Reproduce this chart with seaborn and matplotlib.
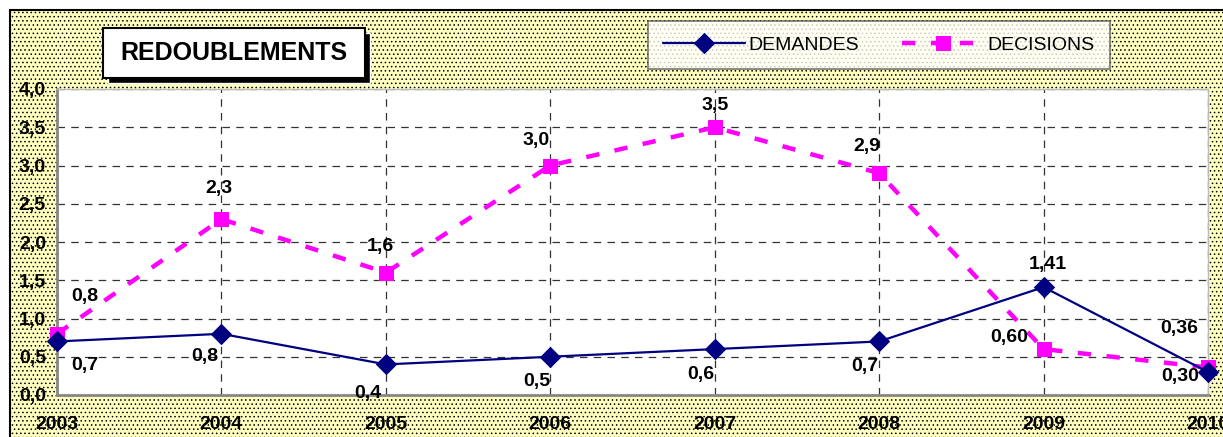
import numpy as np
import pandas as pd
import matplotlib
matplotlib.use("Agg")
import matplotlib.pyplot as plt
from matplotlib.patches import Rectangle
import matplotlib.ticker as mticker
import seaborn as sns

# ── data ────────────────────────────────────────────────────────────────────
YEARS = [2003, 2004, 2005, 2006, 2007, 2008, 2009, 2010]
DEMANDES = [0.7, 0.8, 0.4, 0.5, 0.6, 0.7, 1.41, 0.30]
DECISIONS = [0.8, 2.3, 1.6, 3.0, 3.5, 2.9, 0.60, 0.36]
DEMANDES_LBL = ["0,7", "0,8", "0,4", "0,5", "0,6", "0,7", "1,41", "0,30"]
DECISIONS_LBL = ["0,8", "2,3", "1,6", "3,0", "3,5", "2,9", "0,60", "0,36"]
Y_TICKS = [0.0, 0.5, 1.0, 1.5, 2.0, 2.5, 3.0, 3.5, 4.0]

NAVY = "#000080"
MAGENTA = "#FF00FF"

sns.set_style("white")
plt.rcParams.update({
    "font.family": ["Liberation Sans", "DejaVu Sans"],
    "text.color": "black",
    "xtick.labelcolor": "black",
    "ytick.labelcolor": "black",
    "hatch.color": "#c4c49a",
    "hatch.linewidth": 0.6,
})

fig = plt.figure(figsize=(12.23, 4.37), dpi=100)

# yellow dotted chart background with black top/left border
bg = Rectangle((10 / 1223, -0.01), 1, 1 - 10 / 437 + 0.01, transform=fig.transFigure,
               facecolor="#FFFFC0", edgecolor="black", linewidth=1.5,
               hatch="....", zorder=-10)
fig.patches.append(bg)

ax = fig.add_axes([57 / 1223, 1 - 395 / 437, (1208 - 57) / 1223, (395 - 89) / 437])
ax.set_facecolor("white")

df = pd.DataFrame({"year": YEARS, "dem": DEMANDES, "dec": DECISIONS})

sns.lineplot(data=df, x="year", y="dem", ax=ax, color=NAVY, linewidth=1.6,
             marker="D", markersize=10, markeredgecolor=NAVY, label="DEMANDES",
             clip_on=False, zorder=4)
sns.lineplot(data=df, x="year", y="dec", ax=ax, color=MAGENTA, linewidth=3.2,
             marker="s", markersize=10, markeredgecolor=MAGENTA, label="DECISIONS",
             dashes=(3, 3.5), clip_on=False, zorder=3)

ax.set_xlim(2003, 2010)
ax.set_ylim(0, 4)
ax.set_xticks(YEARS)
ax.set_yticks(Y_TICKS)
ax.yaxis.set_major_formatter(mticker.FuncFormatter(lambda v, _: f"{v:.1f}".replace(".", ",")))
ax.set_xlabel("")
ax.set_ylabel("")
ax.grid(True, color="#333333", linestyle=(0, (6, 5)), linewidth=0.9)
ax.set_axisbelow(True)
ax.tick_params(axis="both", which="both", length=5, width=1, color="#555555",
               labelcolor="black", direction="out", labelsize=14)
ax.tick_params(axis="x", pad=10)
ax.tick_params(axis="y", pad=3)
for lbl in ax.get_xticklabels() + ax.get_yticklabels():
    lbl.set_fontweight("bold")

for side in ["left", "bottom"]:
    ax.spines[side].set_color("#888888")
    ax.spines[side].set_linewidth(2)
for side in ["top", "right"]:
    ax.spines[side].set_color("#bbbbbb")
    ax.spines[side].set_linewidth(1)

# data labels (offsets in points)
dem_off = [(20, -17), (-12, -16), (-13, -21), (-10, -18), (-10, -18), (-10, -18), (3, 16), (-20, -3)]
dec_off = [(20, 27), (-2, 22), (-4, 19), (-10, 18), (0, 16), (-9, 19), (-25, 8), (-21, 28)]
for x, y, t, o in zip(YEARS, DEMANDES, DEMANDES_LBL, dem_off):
    ax.annotate(t, (x, y), xytext=o, textcoords="offset points", ha="center",
                va="center", fontsize=14, fontweight="bold", color="black", zorder=6,
                annotation_clip=False)
for x, y, t, o in zip(YEARS, DECISIONS, DECISIONS_LBL, dec_off):
    ax.annotate(t, (x, y), xytext=o, textcoords="offset points", ha="center",
                va="center", fontsize=14, fontweight="bold", color="black", zorder=6,
                annotation_clip=False)

# legend box at the top right
leg = ax.legend(loc="center", bbox_to_anchor=(879 / 1223, 1 - 45 / 437),
                bbox_transform=fig.transFigure, ncol=2, frameon=True,
                fancybox=False, fontsize=14, handlelength=4.2, handletextpad=0.2,
                borderpad=0.8, columnspacing=2.2, labelcolor="black")
leg.get_frame().set_edgecolor("#555555")
leg.get_frame().set_linewidth(1.2)

# title box with drop shadow
fig.patches.append(Rectangle((108 / 1223, 1 - 83 / 437), 262 / 1223, 50 / 437,
                             transform=fig.transFigure, facecolor="black", zorder=-5))
fig.patches.append(Rectangle((103 / 1223, 1 - 78 / 437), 262 / 1223, 50 / 437,
                             transform=fig.transFigure, facecolor="white",
                             edgecolor="black", linewidth=1.5, zorder=-4))
fig.text(234 / 1223, 1 - 53 / 437, "REDOUBLEMENTS", ha="center", va="center",
         fontsize=18, fontweight="bold", color="black")

fig.savefig("out.png", dpi=100)
